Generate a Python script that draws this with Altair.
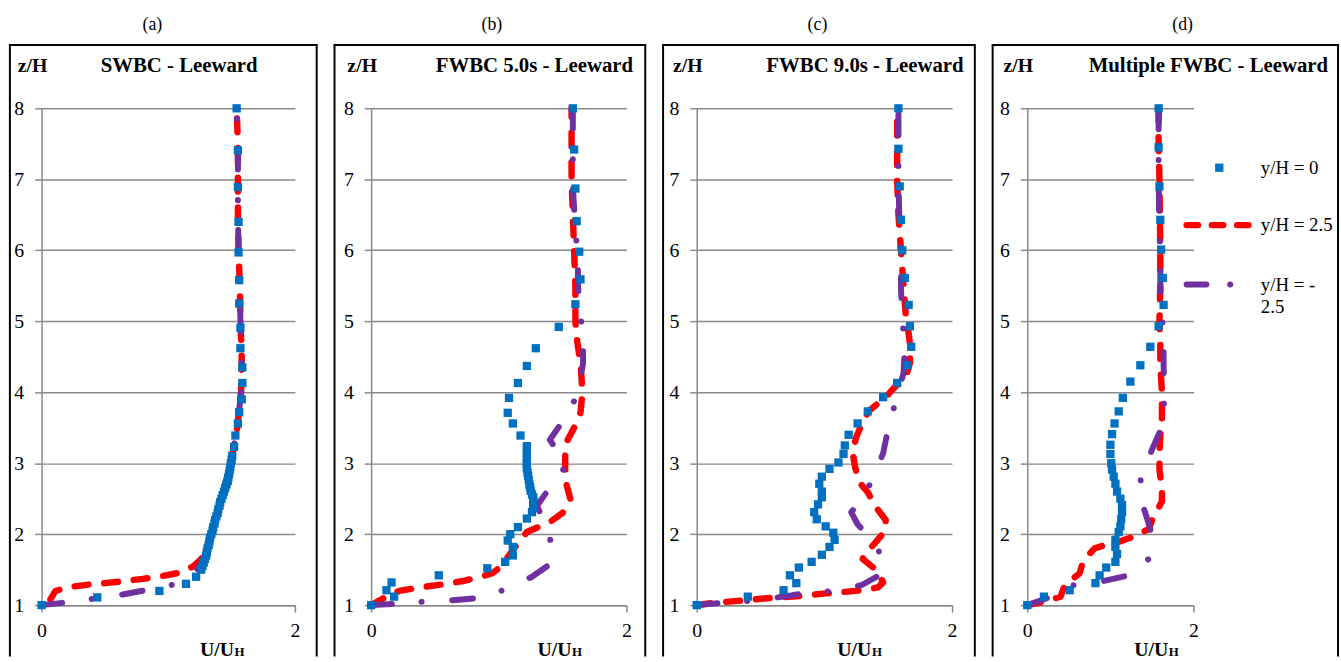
import altair as alt
import pandas as pd

FONT = "Liberation Serif"
BLUE = "#0070C0"
RED = "#FF0000"
PURPLE = "#7030A0"
GRID = "#898989"

PANEL_LABELS = ["(a)", "(b)", "(c)", "(d)"]
PANEL_TITLES = ["SWBC - Leeward", "FWBC 5.0s - Leeward", "FWBC 9.0s - Leeward", "Multiple FWBC - Leeward"]
SERIES = ["y/H = 0", "y/H = 2.5", "y/H = -", "2.5"]
X_TICKS = [0, 1, 2]
Y_TICKS = [1, 2, 3, 4, 5, 6, 7, 8]

# ---------------- Panel (a) SWBC ----------------
A_BLUE_Z = [1.0, 1.11, 1.2, 1.3, 1.4, 1.5, 1.55, 1.6, 1.65, 1.7, 1.75, 1.8, 1.85, 1.9, 1.95, 2.0, 2.05, 2.1,
            2.15, 2.2, 2.25, 2.3, 2.35, 2.4, 2.45, 2.5, 2.55, 2.6, 2.65, 2.7, 2.75, 2.8, 2.85, 2.9, 2.95, 3.0,
            3.05, 3.1, 3.23, 3.39, 3.56, 3.72, 3.9, 4.13, 4.35, 4.62, 4.91, 5.25, 5.58, 5.97, 6.4, 6.89, 7.41, 8.0]
A_BLUE_U = [0.0, 0.44, 0.93, 1.14, 1.22, 1.26, 1.27, 1.28, 1.29, 1.30, 1.305, 1.31, 1.32, 1.325, 1.33, 1.34, 1.35, 1.355,
            1.365, 1.37, 1.38, 1.39, 1.395, 1.405, 1.41, 1.42, 1.43, 1.44, 1.45, 1.46, 1.47, 1.475, 1.48, 1.485, 1.49, 1.495,
            1.5, 1.505, 1.52, 1.53, 1.55, 1.56, 1.58, 1.585, 1.585, 1.57, 1.57, 1.56, 1.56, 1.555, 1.555, 1.55, 1.55, 1.54]
A_RED_Z = [1.08, 1.2, 1.25, 1.29, 1.31, 1.34, 1.37, 1.41, 1.46, 1.55, 1.65, 1.8, 2.0, 2.5, 3.0, 3.5, 4.0, 4.5, 5.0,
           5.5, 6.0, 6.5, 7.0, 7.5, 8.0]
A_RED_U = [0.07, 0.11, 0.2, 0.37, 0.5, 0.65, 0.8, 0.95, 1.1, 1.2, 1.26, 1.3, 1.34, 1.42, 1.495, 1.545, 1.575, 1.58, 1.57,
           1.565, 1.555, 1.55, 1.55, 1.55, 1.54]
A_PUR_Z = [1.0, 1.04, 1.1, 1.15, 1.22, 1.3, 1.45, 1.6, 2.0, 2.5, 3.0, 3.5, 4.0, 4.5, 5.0, 5.5, 6.0, 6.5, 7.0, 7.5, 8.0]
A_PUR_U = [0.0, 0.2, 0.45, 0.64, 0.85, 1.07, 1.2, 1.27, 1.34, 1.42, 1.495, 1.545, 1.575, 1.58, 1.57, 1.565, 1.555,
           1.55, 1.55, 1.55, 1.54]

# ---------------- Panel (b) FWBC 5.0s ----------------
B_BLUE_Z = [1.0, 1.12, 1.21, 1.32, 1.42, 1.52, 1.61, 1.7, 1.82, 1.91, 2.0, 2.1, 2.22, 2.31, 2.37, 2.43, 2.47, 2.52,
            2.56, 2.61, 2.66, 2.7, 2.76, 2.82, 2.87, 2.92, 2.97, 3.01, 3.06, 3.12, 3.18, 3.24, 3.39, 3.56, 3.71, 3.92,
            4.13, 4.37, 4.62, 4.92, 5.24, 5.59, 5.98, 6.41, 6.87, 7.42, 8.0]
B_BLUE_U = [0.0, 0.18, 0.12, 0.16, 0.53, 0.91, 1.05, 1.11, 1.11, 1.07, 1.09, 1.15, 1.22, 1.26, 1.27, 1.27, 1.27, 1.27,
            1.26, 1.25, 1.245, 1.24, 1.235, 1.23, 1.225, 1.22, 1.22, 1.22, 1.22, 1.22, 1.22, 1.22, 1.17, 1.11, 1.07, 1.08,
            1.15, 1.22, 1.29, 1.47, 1.6, 1.64, 1.63, 1.61, 1.6, 1.59, 1.58]
B_RED_Z = [1.0, 1.1, 1.2, 1.25, 1.29, 1.34, 1.4, 1.45, 1.55, 1.7, 1.85, 2.03, 2.17, 2.3, 2.5, 2.7, 2.92, 3.1, 3.33,
           3.5, 3.71, 3.9, 4.15, 4.4, 4.77, 5.0, 5.5, 6.0, 6.5, 7.0, 7.5, 8.0]
B_RED_U = [0.0, 0.1, 0.22, 0.38, 0.55, 0.72, 0.86, 0.95, 1.02, 1.08, 1.14, 1.22, 1.4, 1.5, 1.56, 1.53, 1.52, 1.52, 1.54,
           1.59, 1.64, 1.65, 1.65, 1.64, 1.61, 1.6, 1.6, 1.59, 1.58, 1.57, 1.57, 1.57]
B_PUR_Z = [1.0, 1.02, 1.05, 1.07, 1.1, 1.22, 1.4, 1.6, 1.98, 2.4, 2.66, 2.97, 3.33, 3.59, 3.94, 4.4, 4.7, 5.11, 5.5,
           5.85, 6.3, 6.9, 7.45, 8.0]
B_PUR_U = [0.0, 0.2, 0.42, 0.64, 0.84, 1.05, 1.26, 1.42, 1.40, 1.30, 1.40, 1.53, 1.40, 1.50, 1.61, 1.66, 1.66, 1.64,
           1.62, 1.62, 1.60, 1.58, 1.58, 1.58]

# ---------------- Panel (c) FWBC 9.0s ----------------
C_BLUE_Z = [1.0, 1.12, 1.21, 1.31, 1.42, 1.53, 1.61, 1.71, 1.82, 1.92, 2.02, 2.11, 2.21, 2.31, 2.42, 2.52, 2.6, 2.71,
            2.81, 2.92, 3.01, 3.13, 3.25, 3.4, 3.56, 3.73, 3.93, 4.13, 4.38, 4.64, 4.93, 5.23, 5.61, 6.0, 6.43, 6.9,
            7.43, 8.0]
C_BLUE_U = [0.0, 0.4, 0.68, 0.78, 0.73, 0.8, 0.9, 0.98, 1.04, 1.08, 1.07, 1.01, 0.94, 0.92, 0.95, 0.98, 0.98, 0.96,
            0.98, 1.04, 1.11, 1.15, 1.16, 1.19, 1.26, 1.34, 1.46, 1.57, 1.65, 1.68, 1.67, 1.66, 1.63, 1.61, 1.6, 1.59,
            1.58, 1.58]
C_RED_Z = [1.0, 1.03, 1.06, 1.08, 1.1, 1.12, 1.15, 1.17, 1.19, 1.21, 1.25, 1.32, 1.42, 1.52, 1.65, 1.75, 1.84, 2.03,
           2.2, 2.39, 2.59, 2.74, 2.95, 3.16, 3.37, 3.58, 3.74, 3.93, 4.05, 4.23, 4.41, 4.68, 4.83, 5.02, 5.5, 6.0,
           6.5, 7.0, 7.5, 8.0]
C_RED_U = [0.0, 0.12, 0.32, 0.45, 0.57, 0.75, 0.92, 1.04, 1.18, 1.3, 1.42, 1.46, 1.43, 1.39, 1.3, 1.32, 1.38, 1.47,
           1.48, 1.4, 1.34, 1.27, 1.24, 1.22, 1.25, 1.3, 1.35, 1.48, 1.54, 1.64, 1.67, 1.67, 1.66, 1.64, 1.62, 1.6,
           1.58, 1.57, 1.57, 1.57]
C_PUR_Z = [1.0, 1.03, 1.06, 1.1, 1.14, 1.17, 1.2, 1.28, 1.45, 1.82, 2.14, 2.31, 2.42, 2.74, 3.14, 3.49, 3.88, 4.27,
           4.62, 5.05, 5.45, 5.8, 6.2, 7.0, 8.0]
C_PUR_U = [0.0, 0.19, 0.4, 0.6, 0.75, 0.84, 1.07, 1.29, 1.46, 1.42, 1.26, 1.21, 1.26, 1.37, 1.46, 1.5, 1.56, 1.62,
           1.63, 1.61, 1.6, 1.6, 1.59, 1.58, 1.58]

# ---------------- Panel (d) Multiple FWBC ----------------
D_BLUE_Z = [1.0, 1.12, 1.21, 1.31, 1.42, 1.53, 1.61, 1.72, 1.82, 1.92, 2.03, 2.11, 2.21, 2.31, 2.41, 2.5, 2.6, 2.71,
            2.81, 2.91, 3.0, 3.13, 3.26, 3.41, 3.56, 3.73, 3.92, 4.15, 4.38, 4.64, 4.93, 5.23, 5.61, 6.01, 6.43, 6.9,
            7.45, 8.0]
D_BLUE_U = [0.0, 0.2, 0.51, 0.82, 0.87, 0.95, 1.06, 1.08, 1.06, 1.06, 1.1, 1.12, 1.13, 1.14, 1.14, 1.12, 1.08, 1.06,
            1.04, 1.02, 1.01, 1.0, 1.0, 1.02, 1.05, 1.1, 1.15, 1.24, 1.36, 1.48, 1.58, 1.64, 1.63, 1.61, 1.6, 1.59,
            1.58, 1.58]
D_RED_Z = [1.0, 1.05, 1.12, 1.28, 1.45, 1.61, 1.7, 1.8, 1.85, 1.9, 1.97, 2.07, 2.25, 2.46, 2.63, 2.91, 3.14, 3.37,
           3.6, 4.0, 4.4, 4.7, 5.0, 5.5, 6.0, 7.0, 7.5, 8.0]
D_RED_U = [0.0, 0.2, 0.4, 0.45, 0.63, 0.67, 0.73, 0.81, 0.95, 1.12, 1.29, 1.46, 1.52, 1.62, 1.62, 1.59, 1.59, 1.6,
           1.62, 1.62, 1.6, 1.6, 1.59, 1.6, 1.6, 1.59, 1.58, 1.58]
D_PUR_Z = [1.0, 1.12, 1.28, 1.33, 1.42, 1.67, 2.08, 2.37, 2.8, 3.19, 3.51, 3.92, 4.37, 4.68, 5.1, 5.5, 5.85, 6.3,
           7.0, 8.0]
D_PUR_U = [0.0, 0.29, 0.55, 0.88, 1.22, 1.48, 1.48, 1.4, 1.36, 1.5, 1.62, 1.65, 1.64, 1.64, 1.62, 1.6, 1.6, 1.59,
           1.58, 1.58]

PANELS = [
    dict(w=256, blue=(A_BLUE_Z, A_BLUE_U), red=(A_RED_Z, A_RED_U), pur=(A_PUR_Z, A_PUR_U),
         bl=-32, br=22, lab_x=112, title_x=139, uu_x=160),
    dict(w=258, blue=(B_BLUE_Z, B_BLUE_U), red=(B_RED_Z, B_RED_U), pur=(B_PUR_Z, B_PUR_U),
         bl=-37, br=19, lab_x=122, title_x=165, uu_x=168),
    dict(w=258, blue=(C_BLUE_Z, C_BLUE_U), red=(C_RED_Z, C_RED_U), pur=(C_PUR_Z, C_PUR_U),
         bl=-34, br=23, lab_x=122, title_x=170, uu_x=142),
    dict(w=168, blue=(D_BLUE_Z, D_BLUE_U), red=(D_RED_Z, D_RED_U), pur=(D_PUR_Z, D_PUR_U),
         bl=-35, br=146, lab_x=157, title_x=183, uu_x=108),
]

H = 502
BOX_TOP = -64
BOX_BOTTOM = 554
ONE = pd.DataFrame({"d": [0]})


def sdf(zu):
    z, u = zu
    return pd.DataFrame({"z": z, "u": u, "i": list(range(len(z)))})


def txt(text, x, y, size=20, bold=False, align="left", baseline="alphabetic"):
    return alt.Chart(ONE).mark_text(
        font=FONT, fontSize=size, fontWeight="bold" if bold else "normal",
        align=align, baseline=baseline, color="black"
    ).encode(x=alt.value(x), y=alt.value(y), text=alt.value(text))


def make_panel(k, p):
    xenc = alt.X("u:Q", scale=alt.Scale(domain=[0, 2], nice=False, zero=False),
                 axis=alt.Axis(values=X_TICKS, title=None, grid=False, domainColor=GRID, domainWidth=1.5,
                               tickColor=GRID, tickWidth=1.5, tickSize=7, labelFont=FONT, labelFontSize=20,
                               labelColor="black", labelPadding=9, format="d", labelFlush=False))
    yenc = alt.Y("z:Q", scale=alt.Scale(domain=[1, 8], nice=False, zero=False),
                 axis=alt.Axis(values=Y_TICKS, title=None, grid=True, gridColor=GRID, gridWidth=1.5,
                               domainColor=GRID, domainWidth=1.5, tickColor=GRID, tickWidth=1.5, tickSize=7,
                               labelFont=FONT, labelFontSize=20, labelColor="black", labelPadding=11,
                               format="d", labelFlush=False))

    red = alt.Chart(sdf(p["red"])).mark_line(
        color=RED, strokeWidth=6.5, strokeDash=[14, 16], strokeCap="round", strokeJoin="round"
    ).encode(x=xenc, y=yenc, order="i:Q")
    pur = alt.Chart(sdf(p["pur"])).mark_line(
        color=PURPLE, strokeWidth=6, strokeDash=[21, 30, 0.1, 31], strokeCap="round", strokeJoin="round"
    ).encode(x=xenc, y=yenc, order="i:Q")
    blue = alt.Chart(sdf(p["blue"])).mark_square(color=BLUE, size=70, opacity=1).encode(x=xenc, y=yenc)

    box_l = alt.Chart(ONE).mark_rule(color="black", strokeWidth=2).encode(
        x=alt.value(p["bl"]), y=alt.value(BOX_TOP), y2=alt.value(BOX_BOTTOM))
    box_r = alt.Chart(ONE).mark_rule(color="black", strokeWidth=2).encode(
        x=alt.value(p["w"] + p["br"]), y=alt.value(BOX_TOP), y2=alt.value(BOX_BOTTOM))
    box_t = alt.Chart(ONE).mark_rule(color="black", strokeWidth=2).encode(
        x=alt.value(p["bl"] - 1), x2=alt.value(p["w"] + p["br"] + 1), y=alt.value(BOX_TOP))
    spacer = alt.Chart(ONE).mark_rule(color="white", strokeWidth=1).encode(
        x=alt.value(0), y=alt.value(-104.5), y2=alt.value(-103.5))

    layers = [box_l, box_r, box_t, spacer, red, pur, blue,
              txt(PANEL_LABELS[k], p["lab_x"], -79, size=18, align="center"),
              txt("z/H", -24, -37, size=20, bold=True),
              txt(PANEL_TITLES[k], p["title_x"], -37, size=21, bold=True, align="center"),
              txt("U/U", p["uu_x"], 553, size=20, bold=True),
              txt("H", p["uu_x"] + 35, 553, size=13, bold=True)]

    if k == 3:
        leg_sq = alt.Chart(ONE).mark_square(color=BLUE, size=70, opacity=1).encode(
            x=alt.value(194), y=alt.value(60))
        leg_red = alt.Chart(ONE).mark_rule(color=RED, strokeWidth=6.5, strokeDash=[11.5, 14],
                                           strokeCap="round").encode(
            x=alt.value(161), x2=alt.value(223.5), y=alt.value(118))
        leg_pur = alt.Chart(ONE).mark_rule(color=PURPLE, strokeWidth=6, strokeDash=[20, 24, 0.1, 100],
                                           strokeCap="round").encode(
            x=alt.value(161), x2=alt.value(206), y=alt.value(178))
        layers += [leg_red, leg_pur, leg_sq,
                   txt(SERIES[0], 236, 60, size=19, baseline="middle"),
                   txt(SERIES[1], 236, 118, size=19, baseline="middle"),
                   txt(SERIES[2], 236, 179, size=19, baseline="middle"),
                   txt(SERIES[3], 236, 201, size=19, baseline="middle")]

    return alt.layer(*layers).properties(width=p["w"], height=H)


chart = alt.hconcat(*[make_panel(k, p) for k, p in enumerate(PANELS)], spacing=12).properties(
    padding={"left": 7, "top": 0, "right": 0, "bottom": 0},
    background="white",
).configure_view(stroke="transparent")

chart.save("out.html", embed_options={"renderer": "svg", "actions": False})
